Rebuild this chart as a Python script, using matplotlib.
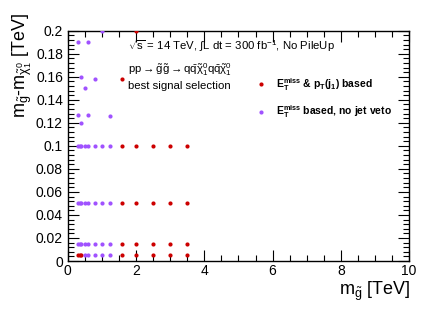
import numpy as np
import matplotlib
matplotlib.use('Agg')
import matplotlib.pyplot as plt
from matplotlib.ticker import MultipleLocator, FormatStrFormatter

plt.rcParams['font.family'] = ['Liberation Sans', 'DejaVu Sans']
plt.rcParams['mathtext.fontset'] = 'custom'
plt.rcParams['mathtext.rm'] = 'Liberation Sans'
plt.rcParams['mathtext.it'] = 'Liberation Sans'
plt.rcParams['mathtext.bf'] = 'Liberation Sans:bold'

# gluino masses [TeV] and mass splittings [TeV]
rows = [0.1, 0.05, 0.015]
red_x_rows = [1.6, 2.0, 2.5, 3.0, 3.5]
purple_x_rows = [0.3, 0.35, 0.4, 0.5, 0.6, 0.8, 1.0, 1.25]

# lowest row (0.005)
red_x_low = [0.3, 0.35, 0.4, 1.6, 2.0, 2.5, 3.0, 3.5]
purple_x_low = [0.5, 0.6, 0.8, 1.0, 1.25]

# scattered points
red_x_extra = [1.6, 2.0]
red_y_extra = [0.158, 0.2]
purple_x_extra = [0.3, 0.6, 1.0, 0.4, 0.8, 0.5, 0.3, 0.6, 0.4, 1.25]
purple_y_extra = [0.19, 0.19, 0.2, 0.16, 0.158, 0.15, 0.1265, 0.1265, 0.12, 0.126]

red_x = [x for y in rows for x in red_x_rows] + red_x_low + red_x_extra
red_y = [y for y in rows for x in red_x_rows] + [0.005] * len(red_x_low) + red_y_extra
purple_x = [x for y in rows for x in purple_x_rows] + purple_x_low + purple_x_extra
purple_y = [y for y in rows for x in purple_x_rows] + [0.005] * len(purple_x_low) + purple_y_extra

red = '#cc0000'
purple = '#a052ff'

fig = plt.figure(figsize=(4.32, 3.10), dpi=100)
ax = fig.add_axes([0.157, 0.158, 0.79, 0.743])

ax.scatter(red_x, red_y, s=9, color=red, lw=0, clip_on=True, zorder=3)
ax.scatter(purple_x, purple_y, s=9, color=purple, lw=0, clip_on=True, zorder=3)

ax.set_xlim(0, 10)
ax.set_ylim(0, 0.2)
ax.xaxis.set_major_locator(MultipleLocator(2))
ax.xaxis.set_minor_locator(MultipleLocator(0.5))
ax.yaxis.set_major_locator(MultipleLocator(0.02))
ax.yaxis.set_minor_locator(MultipleLocator(0.004))
ax.yaxis.set_major_formatter(FormatStrFormatter('%g'))
ax.tick_params(which='both', direction='in', top=True, right=True, labelsize=10, width=0.8)
ax.tick_params(which='major', length=8)
ax.tick_params(which='minor', length=4)
ax.tick_params(axis='x', pad=2)
for sp in ax.spines.values():
    sp.set_linewidth(1.0)

fig.text(410/432, 1 - 280/310, r'm$_{\tilde{g}}$ [TeV]', ha='right', va='top', fontsize=13)
fig.text(22/432, 1 - 13/310, r'm$_{\tilde{g}}$-m$_{\tilde{\chi}_1^0}$ [TeV]',
         rotation=90, ha='center', va='top', fontsize=13)

ax.text(0.177, 0.935, r'$\sqrt{s}$ = 14 TeV, $\int$L dt = 300 fb$^{-1}$, No PileUp',
        transform=ax.transAxes, fontsize=8.2, va='center')
ax.text(0.177, 0.83, r'pp$\rightarrow\tilde{g}\tilde{g}\rightarrow$q$\bar{q}\tilde{\chi}_1^0$q$\bar{q}\tilde{\chi}_1^0$',
        transform=ax.transAxes, fontsize=8.2, va='center')
ax.text(0.177, 0.76, 'best signal selection', transform=ax.transAxes, fontsize=8.2, va='center')

# legend
ax.scatter([5.65], [0.1535], s=9, color=red, lw=0)
ax.scatter([5.65], [0.1295], s=9, color=purple, lw=0)
ax.text(6.1, 0.1535, r'$\mathbf{E_T^{miss}}$ & p$_\mathbf{T}$(j$_\mathbf{1}$) based', fontsize=7.5,
        fontweight='bold', va='center')
ax.text(6.1, 0.1295, r'$\mathbf{E_T^{miss}}$ based, no jet veto', fontsize=7.5,
        fontweight='bold', va='center')

fig.savefig('out.png', dpi=100)
